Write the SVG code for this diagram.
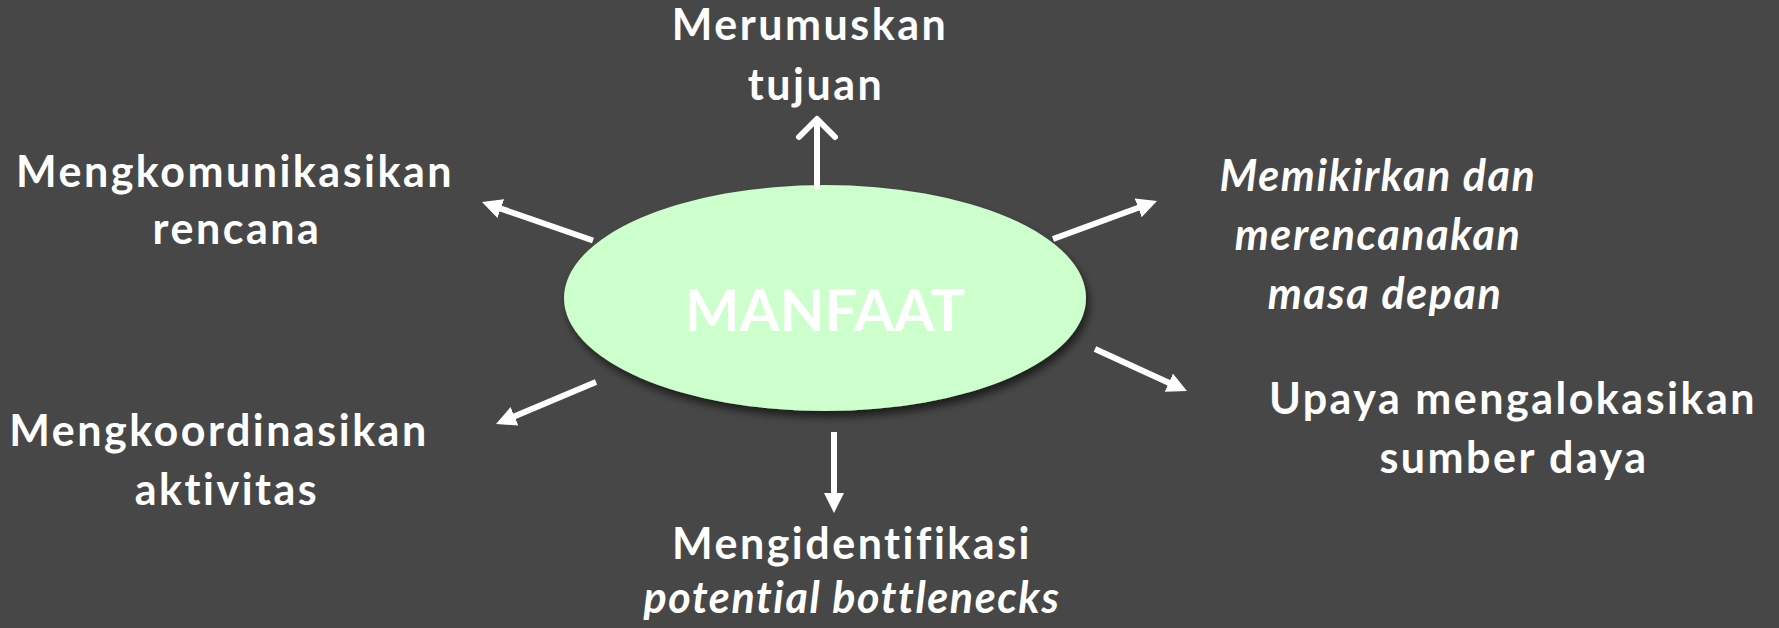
<svg xmlns="http://www.w3.org/2000/svg" width="1779" height="628" viewBox="0 0 1779 628">
<style>
.lbl{font-family:"Lato","Liberation Sans",sans-serif;font-weight:bold;font-size:43px;letter-spacing:2.5px;fill:#ffffff;text-anchor:middle;font-variant-ligatures:none}
.it{font-style:italic;letter-spacing:1.6px}
.con{stroke:#ffffff;stroke-width:6;fill:none}
</style>
<defs>
<marker id="ah" viewBox="0 0 20 20" markerWidth="20" markerHeight="20" markerUnits="userSpaceOnUse" refX="3" refY="10" orient="auto"><path d="M0,0 L20,10 L0,20 z" fill="#ffffff"/></marker>
<filter id="sh" x="-10%" y="-10%" width="130%" height="140%"><feDropShadow dx="3" dy="6" stdDeviation="4" flood-color="#000000" flood-opacity="0.6"/></filter>
</defs>
<rect width="1779" height="628" fill="#474747"/>
<g id="center">
<ellipse cx="825" cy="298" rx="261" ry="113" fill="#ccffcc" filter="url(#sh)"/>
<text class="lbl" x="825" y="331" style="font-size:58px;letter-spacing:0">MANFAAT</text>
</g>
<g id="n-top"><text class="lbl" x="810" y="40">Merumuskan</text><text class="lbl" x="816" y="100">tujuan</text></g>
<g id="n-tl"><text class="lbl" x="235" y="187">Mengkomunikasikan</text><text class="lbl" x="237" y="244">rencana</text></g>
<g id="n-tr"><text class="lbl it" x="1378" y="191">Memikirkan dan</text><text class="lbl it" x="1378" y="250">merencanakan</text><text class="lbl it" x="1385" y="309">masa depan</text></g>
<g id="n-bl"><text class="lbl" x="219" y="446">Mengkoordinasikan</text><text class="lbl" x="227" y="505">aktivitas</text></g>
<g id="n-br"><text class="lbl" x="1513" y="414">Upaya mengalokasikan</text><text class="lbl" x="1514" y="473">sumber daya</text></g>
<g id="n-bottom"><text class="lbl" x="852" y="559">Mengidentifikasi</text><text class="lbl it" x="852" y="613">potential bottlenecks</text></g>
<g id="connectors">
<line class="con" x1="817" y1="189.5" x2="817" y2="120"/>
<polyline class="con" points="799,137 817,119 835,137" stroke-linecap="round" stroke-linejoin="round"/>
<line class="con" x1="593" y1="240.5" x2="498" y2="207.6" marker-end="url(#ah)"/>
<line class="con" x1="1053" y1="239" x2="1141" y2="206.8" marker-end="url(#ah)"/>
<line class="con" x1="596" y1="382" x2="511.7" y2="417.4" marker-end="url(#ah)"/>
<line class="con" x1="1095" y1="349" x2="1171.5" y2="383.9" marker-end="url(#ah)"/>
<line class="con" x1="834" y1="432" x2="834" y2="496" marker-end="url(#ah)"/>
</g>
</svg>
